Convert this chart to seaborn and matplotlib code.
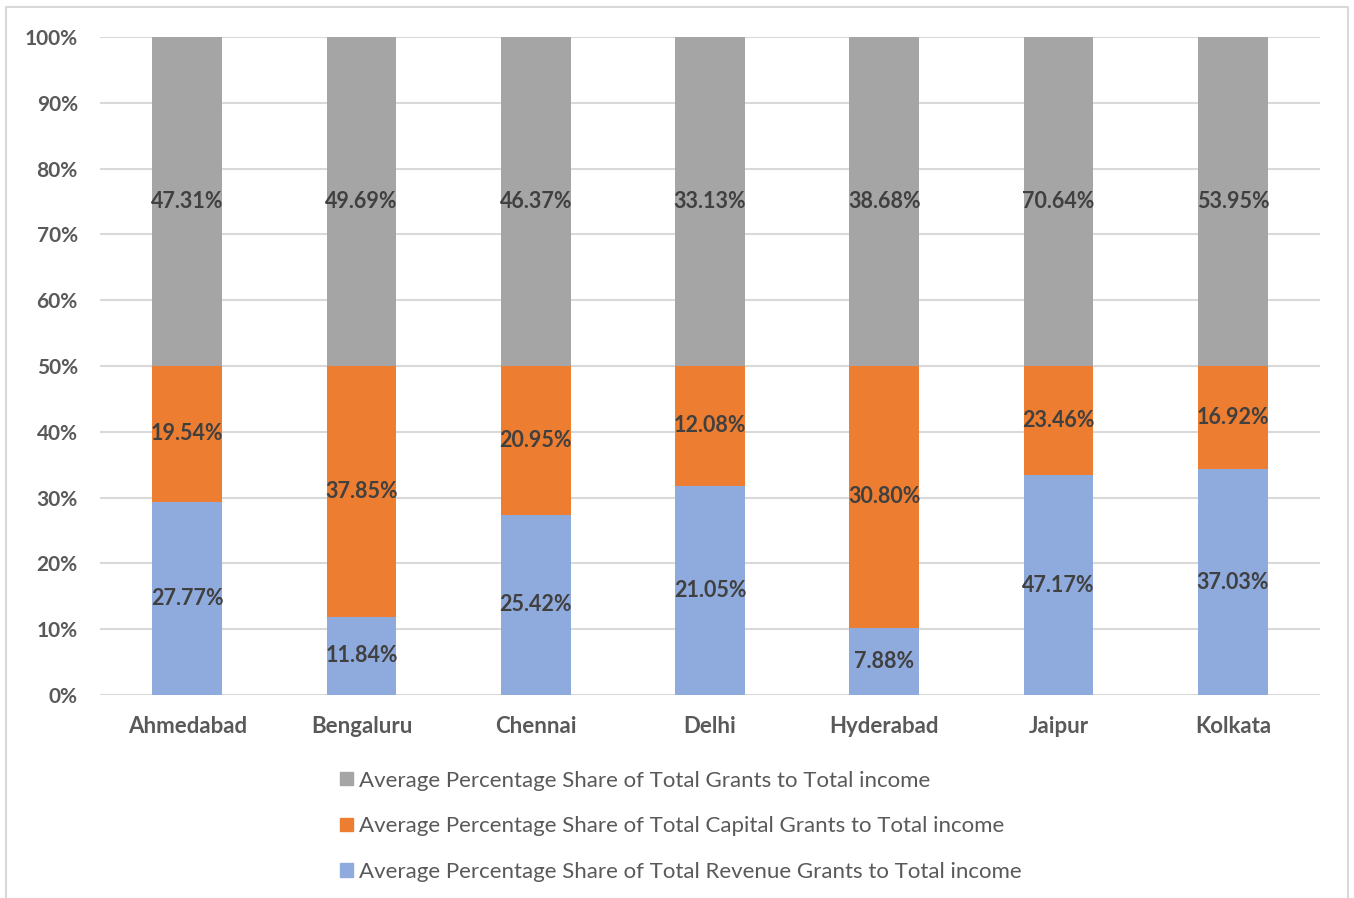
import numpy as np
import pandas as pd
import matplotlib
matplotlib.use("Agg")
import matplotlib.pyplot as plt
import matplotlib.patches as mpatches
import seaborn as sns

cities = ["Ahmedabad", "Bengaluru", "Chennai", "Delhi", "Hyderabad", "Jaipur", "Kolkata"]
revenue = [27.77, 11.84, 25.42, 21.05, 7.88, 47.17, 37.03]
capital = [19.54, 37.85, 20.95, 12.08, 30.80, 23.46, 16.92]
grants = [47.31, 49.69, 46.37, 33.13, 38.68, 70.64, 53.95]

series = [
    ("Average Percentage Share of Total Revenue Grants to Total income", revenue, "#8FAADC"),
    ("Average Percentage Share of Total Capital Grants to Total income", capital, "#ED7D31"),
    ("Average Percentage Share of Total Grants to Total income", grants, "#A5A5A5"),
]

sns.set_theme(style="white")
plt.rcParams["font.family"] = ["Lato", "DejaVu Sans"]

df = pd.DataFrame({"city": cities, "rev": revenue, "cap": capital, "tot": grants})
total = df[["rev", "cap", "tot"]].sum(axis=1)

fig = plt.figure(figsize=(13.54, 8.98), dpi=100)
ax = fig.add_axes([0.0739, 0.2261, 0.9010, 0.7327])

bottom = np.zeros(len(cities))
handles = []
for (name, vals, color) in series:
    share = np.array(vals) / total.values * 100
    sns.barplot(x=cities, y=share, bottom=bottom, color=color, width=0.4,
                saturation=1, linewidth=0, ax=ax, zorder=3)
    bars = ax.containers[-1]
    ax.bar_label(bars, labels=[f"{v:.2f}%" for v in vals], label_type="center",
                 fontsize=15.5, fontweight="bold", color="#404040")
    bottom = bottom + share
    handles.append(mpatches.Patch(color=color, label=name))

ax.set_ylim(0, 100)
ax.set_xlim(-0.5, len(cities) - 0.5)
ax.set_yticks(np.arange(0, 101, 10))
ax.set_yticklabels([f"{t}%" for t in range(0, 101, 10)])
ax.grid(axis="y", color="#D9D9D9", linewidth=1.5, zorder=0)
ax.set_axisbelow(True)
for s in ax.spines.values():
    s.set_visible(False)
ax.tick_params(axis="both", length=0, colors="#595959")
ax.tick_params(axis="x", pad=15, labelsize=16)
ax.tick_params(axis="y", pad=16, labelsize=15)
for lbl in ax.get_xticklabels() + ax.get_yticklabels():
    lbl.set_fontweight("bold")
ax.set_xlabel("")
ax.set_ylabel("")

fig.legend(handles=handles[::-1], loc="center", bbox_to_anchor=(0.503, 0.080),
           frameon=False, fontsize=16, labelcolor="#595959", handlelength=0.55,
           handleheight=0.55, handletextpad=0.3, labelspacing=1.15)

# light border like the chart area frame
fig.add_artist(plt.Line2D([6/1354, 6/1354, 1348/1354, 1348/1354],
                          [0, 1 - 7/898, 1 - 7/898, 0],
                          transform=fig.transFigure, color="#D9D9D9", linewidth=1.5))

fig.savefig("out.png", dpi=100)
